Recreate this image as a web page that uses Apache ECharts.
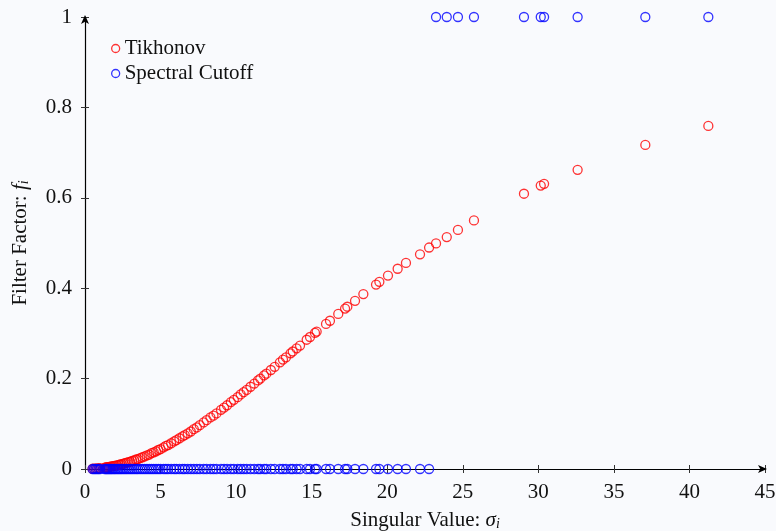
<!DOCTYPE html>
<html>
<head>
<meta charset="utf-8">
<script src="https://cdn.jsdelivr.net/npm/echarts@6/dist/echarts.min.js"></script>
<style>
html,body{margin:0;padding:0;background:#f9fafd;}
#chart{width:776px;height:531px;}
</style>
</head>
<body>
<div id="chart"></div>
<script>
// Singular values
var sigmaValues = [
  41.25, 37.08, 32.6, 30.38, 30.16, 29.05, 25.74, 24.68, 23.94, 23.23,
  22.77, 22.17, 21.24, 20.69, 20.05, 19.48, 19.26, 18.42, 17.87, 17.36,
  17.21, 16.76, 16.21, 15.95, 15.33, 15.22, 14.89, 14.67, 14.23,
  14.0, 13.75, 13.6, 13.3, 13.1, 12.9, 12.55, 12.3, 12.0, 11.85,
  11.6, 11.45, 11.2, 10.95, 10.7, 10.5, 10.3, 10.1, 9.85, 9.65,
  9.4, 9.2, 9.0, 8.7, 8.5, 8.3, 8.05, 7.85, 7.6, 7.4,
  7.2, 7.0, 6.8, 6.6, 6.45, 6.25, 6.05, 5.9, 5.7, 5.5,
  5.35, 5.2, 5.0, 4.85, 4.7, 4.55, 4.4, 4.25, 4.1, 3.95,
  3.8, 3.65, 3.5, 3.38, 3.25, 3.12, 3.0, 2.88, 2.76, 2.65,
  2.54, 2.43, 2.33, 2.23, 2.13, 2.03, 1.94, 1.85, 1.76, 1.68,
  1.6, 1.52, 1.45, 1.38, 1.3, 1.0, 0.9, 0.8, 0.7, 0.6,
  0.5
];
// Tikhonov filter factors
var tikhonovValues = [
  0.759, 0.717, 0.662, 0.631, 0.627, 0.609, 0.550, 0.529, 0.513, 0.499,
  0.490, 0.475, 0.456, 0.443, 0.428, 0.414, 0.408, 0.387, 0.372, 0.359,
  0.355, 0.343, 0.328, 0.321, 0.304, 0.301, 0.292, 0.286, 0.273,
  0.267, 0.260, 0.256, 0.247, 0.242, 0.236, 0.226, 0.219, 0.211, 0.207,
  0.200, 0.196, 0.189, 0.182, 0.175, 0.170, 0.165, 0.159, 0.153, 0.148,
  0.141, 0.136, 0.131, 0.123, 0.118, 0.114, 0.108, 0.103, 0.097, 0.092,
  0.088, 0.083, 0.079, 0.075, 0.072, 0.068, 0.064, 0.061, 0.057, 0.053,
  0.051, 0.048, 0.044, 0.042, 0.039, 0.037, 0.035, 0.032, 0.030, 0.028,
  0.026, 0.024, 0.022, 0.021, 0.019, 0.018, 0.016, 0.015, 0.014, 0.013,
  0.012, 0.011, 0.010, 0.009, 0.008, 0.0076, 0.007, 0.0063, 0.0057, 0.0052,
  0.0047, 0.0043, 0.0039, 0.0035, 0.0031, 0.0019, 0.0015, 0.0012, 0.0009, 0.0007,
  0.0005
];
// Spectral cutoff filter factors
var cutoffValues = [
  1, 1, 1, 1, 1, 1, 1, 1, 1, 1,
  0, 0, 0, 0, 0, 0, 0, 0, 0, 0,
  0, 0, 0, 0, 0, 0, 0, 0, 0,
  0, 0, 0, 0, 0, 0, 0, 0, 0, 0,
  0, 0, 0, 0, 0, 0, 0, 0, 0, 0,
  0, 0, 0, 0, 0, 0, 0, 0, 0, 0,
  0, 0, 0, 0, 0, 0, 0, 0, 0, 0,
  0, 0, 0, 0, 0, 0, 0, 0, 0, 0,
  0, 0, 0, 0, 0, 0, 0, 0, 0, 0,
  0, 0, 0, 0, 0, 0, 0, 0, 0, 0,
  0, 0, 0, 0, 0, 0, 0, 0, 0, 0,
  0
];
var seriesNames = ['Tikhonov', 'Spectral Cutoff'];
var xTicks = [0, 5, 10, 15, 20, 25, 30, 35, 40, 45];
var yTicks = [0, 0.2, 0.4, 0.6, 0.8, 1];

var FONT = 'Liberation Serif';
var FS = 21;

function pairs(ys) {
  return sigmaValues.map(function (s, i) { return [s, ys[i]]; });
}

var chart = echarts.init(document.getElementById('chart'), null, {renderer: 'canvas'});
var xMin = xTicks[0], xMax = xTicks[xTicks.length - 1];
var yMin = yTicks[0], yMax = yTicks[yTicks.length - 1];

var axisCommonX = {type: 'value', min: xMin, max: xMax, interval: 5, position: 'bottom'};
var axisCommonY = {type: 'value', min: yMin, max: yMax, interval: 0.2, position: 'left'};

chart.setOption({
  backgroundColor: '#f9fafd',
  animation: false,
  textStyle: {fontFamily: FONT},
  grid: {left: 85, right: 11, top: 17, bottom: 62, containLabel: false, outerBoundsMode: 'none'},
  legend: {
    orient: 'vertical',
    left: 106,
    top: 33,
    itemWidth: 8,
    itemHeight: 8,
    itemGap: 4,
    icon: 'circle',
    textStyle: {fontFamily: FONT, fontSize: FS, color: '#111'},
    data: [
      {name: seriesNames[0], itemStyle: {color: 'transparent', borderColor: '#ff0000', borderWidth: 1.3}},
      {name: seriesNames[1], itemStyle: {color: 'transparent', borderColor: '#0000ff', borderWidth: 1.3}}
    ]
  },
  xAxis: [
    Object.assign({}, axisCommonX, {
      name: 'Singular Value: {it|σ}{sub|i}',
      nameLocation: 'middle',
      nameGap: 40,
      nameTextStyle: {
        fontFamily: FONT, fontSize: FS, color: '#111',
        rich: {
          it: {fontFamily: FONT, fontSize: FS, fontStyle: 'italic', color: '#111'},
          sub: {fontFamily: FONT, fontSize: 14, fontStyle: 'italic', color: '#111', verticalAlign: 'bottom', padding: [8, 0, 0, 0]}
        }
      },
      axisLine: {show: true, onZero: false, lineStyle: {color: '#000', width: 1.2}, symbol: ['none', 'arrow'], symbolSize: [6, 9], symbolOffset: [0, 2]},
      axisTick: {show: true, inside: false, length: 4, lineStyle: {color: '#333', width: 1}},
      axisLabel: {show: true, margin: 13, fontFamily: FONT, fontSize: FS, color: '#111'},
      splitLine: {show: false}
    }),
    Object.assign({}, axisCommonX, {
      axisLine: {show: false, onZero: false},
      axisTick: {show: true, inside: true, length: 4, lineStyle: {color: '#333', width: 1}},
      axisLabel: {show: false},
      splitLine: {show: false}
    })
  ],
  yAxis: [
    Object.assign({}, axisCommonY, {
      name: 'Filter Factor: {it|f}{sub|i}',
      nameLocation: 'middle',
      nameGap: 54,
      nameRotate: 90,
      nameTextStyle: {
        fontFamily: FONT, fontSize: FS, color: '#111',
        rich: {
          it: {fontFamily: FONT, fontSize: FS, fontStyle: 'italic', color: '#111'},
          sub: {fontFamily: FONT, fontSize: 14, fontStyle: 'italic', color: '#111', verticalAlign: 'bottom', padding: [8, 0, 0, 0]}
        }
      },
      axisLine: {show: true, onZero: false, lineStyle: {color: '#000', width: 1.2}, symbol: ['none', 'arrow'], symbolSize: [6, 9], symbolOffset: [0, 2]},
      axisTick: {show: true, inside: false, length: 4, lineStyle: {color: '#333', width: 1}},
      axisLabel: {show: true, margin: 13, fontFamily: FONT, fontSize: FS, color: '#111'},
      splitLine: {show: false}
    }),
    Object.assign({}, axisCommonY, {
      axisLine: {show: false, onZero: false},
      axisTick: {show: true, inside: true, length: 4, lineStyle: {color: '#333', width: 1}},
      axisLabel: {show: false},
      splitLine: {show: false}
    })
  ],
  series: [
    {
      name: seriesNames[0],
      type: 'scatter',
      symbol: 'circle',
      symbolSize: 9,
      itemStyle: {color: 'transparent', borderColor: '#ff0000', borderWidth: 1.3},
      data: pairs(tikhonovValues),
      z: 2
    },
    {
      name: seriesNames[1],
      type: 'scatter',
      symbol: 'circle',
      symbolSize: 9,
      itemStyle: {color: 'transparent', borderColor: '#0000ff', borderWidth: 1.3},
      data: pairs(cutoffValues),
      z: 3
    }
  ]
});
</script>
</body>
</html>
